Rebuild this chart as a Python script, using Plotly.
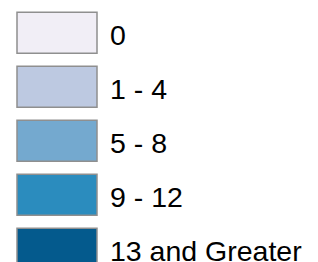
import plotly.graph_objects as go

categories = ["0", "1 - 4", "5 - 8", "9 - 12", "13 and Greater"]
colors = ["#f1eef6", "#bdc9e1", "#74a9cf", "#2b8cbe", "#045a8d"]
swatch_len = [1, 1, 1, 1, 1]

idx = list(range(len(categories)))

fig = go.Figure()
fig.add_trace(go.Bar(
    y=idx, x=swatch_len, base=0, orientation="h",
    width=0.76,
    marker=dict(color=colors, line=dict(color="#8f8f8f", width=1.5)),
    hoverinfo="skip", showlegend=False,
))

for i, (lab, v) in enumerate(zip(categories, swatch_len)):
    fig.add_annotation(
        x=v, y=i, text=lab, showarrow=False, xanchor="left", yanchor="middle",
        xshift=11, yshift=-2,
        font=dict(family="Liberation Sans, Arial, sans-serif", size=28.5, color="#000000"),
    )

fig.update_layout(
    width=318, height=262,
    margin=dict(l=0, r=0, t=0, b=0),
    paper_bgcolor="white", plot_bgcolor="white",
    xaxis=dict(range=[-0.2125, 3.7625], visible=False, fixedrange=True),
    yaxis=dict(range=[4.244, -0.607], visible=False, fixedrange=True),
)

fig.write_html(
    "out.html",
    config={"displayModeBar": False},
    post_script="document.body.style.margin='0';document.body.style.overflow='hidden';",
)
